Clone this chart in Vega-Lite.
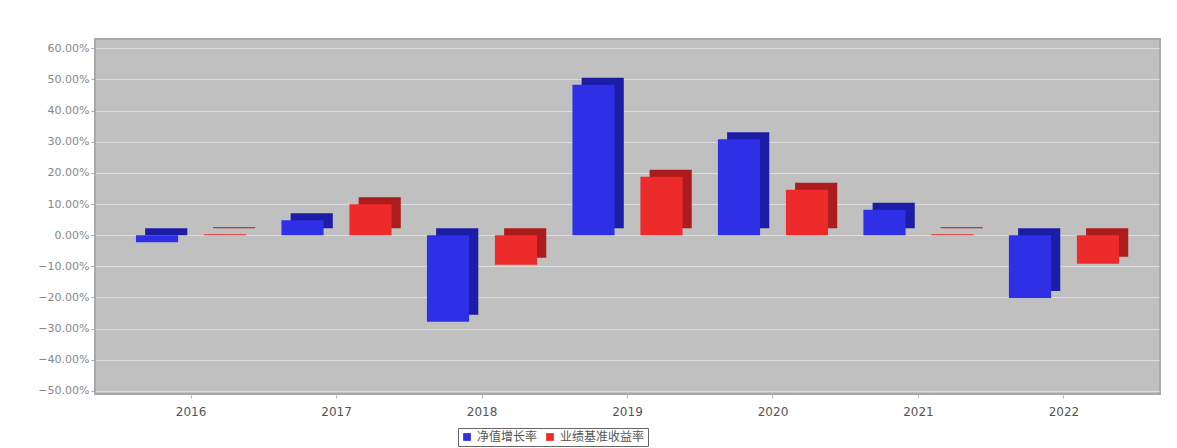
{
  "$schema": "https://vega.github.io/schema/vega-lite/v6.json",
  "width": 1065,
  "height": 355,
  "autosize": {"type": "none"},
  "padding": {"left": 95, "top": 39, "right": 17, "bottom": 54},
  "background": "white",
  "config": {
    "view": {"fill": "#c0c0c0", "stroke": "#a8a8a8", "strokeWidth": 2},
    "font": "DejaVu Sans"
  },
  "data": {
    "values": [
      {"year": "2016", "series": "净值增长率", "value": -2.3},
      {"year": "2016", "series": "业绩基准收益率", "value": 0.3},
      {"year": "2017", "series": "净值增长率", "value": 4.8},
      {"year": "2017", "series": "业绩基准收益率", "value": 9.9},
      {"year": "2018", "series": "净值增长率", "value": -27.8},
      {"year": "2018", "series": "业绩基准收益率", "value": -9.5},
      {"year": "2019", "series": "净值增长率", "value": 48.3},
      {"year": "2019", "series": "业绩基准收益率", "value": 18.8},
      {"year": "2020", "series": "净值增长率", "value": 30.8},
      {"year": "2020", "series": "业绩基准收益率", "value": 14.6},
      {"year": "2021", "series": "净值增长率", "value": 8.2},
      {"year": "2021", "series": "业绩基准收益率", "value": 0.3},
      {"year": "2022", "series": "净值增长率", "value": -20.2},
      {"year": "2022", "series": "业绩基准收益率", "value": -9.2}
    ]
  },
  "encoding": {
    "x": {
      "field": "year", "type": "nominal",
      "scale": {"paddingInner": 0, "paddingOuter": 0.16},
      "axis": {"title": null, "labelAngle": 0, "labelColor": "#555", "labelFontSize": 12, "labelPadding": 8, "domain": false, "tickColor": "#bbb", "tickSize": 4}
    },
    "y": {
      "field": "value", "type": "quantitative",
      "scale": {"domain": [-51, 63], "nice": false, "zero": false},
      "axis": {
        "title": null,
        "values": [-50, -40, -30, -20, -10, 0, 10, 20, 30, 40, 50, 60],
        "labelExpr": "format(datum.value, '.2f') + '%'",
        "labelColor": "#888", "labelFontSize": 11,
        "domainColor": "#aaa", "tickColor": "#aaa", "tickSize": 4,
        "gridColor": "#ffffff", "gridOpacity": 0.45
      }
    }
  },
  "resolve": {"scale": {"xOffset": "independent"}},
  "layer": [
    {
      "mark": {"type": "bar", "yOffset": -7, "y2Offset": -7},
      "encoding": {
        "xOffset": {
          "field": "series", "type": "nominal",
          "sort": ["净值增长率", "业绩基准收益率"],
          "scale": {"paddingInner": 0.38, "paddingOuter": 0.26, "align": 0.76}
        },
        "y2": {"datum": 0},
        "color": {
          "condition": {"test": "datum.series === '净值增长率'", "value": "#1c1ca6"},
          "value": "#ac1c1c"
        }
      }
    },
    {
      "mark": {"type": "bar"},
      "encoding": {
        "xOffset": {
          "field": "series", "type": "nominal",
          "sort": ["净值增长率", "业绩基准收益率"],
          "scale": {"paddingInner": 0.38, "paddingOuter": 0.26, "align": 0.5}
        },
        "y2": {"datum": 0},
        "color": {
          "field": "series", "type": "nominal",
          "sort": ["净值增长率", "业绩基准收益率"],
          "scale": {"domain": ["净值增长率", "业绩基准收益率"], "range": ["#2f2fe6", "#ee2b2b"]},
          "legend": {
            "title": null, "orient": "none", "legendX": 363, "legendY": 389, "direction": "horizontal",
            "symbolType": "square", "symbolSize": 60, "symbolStrokeWidth": 0,
            "labelFont": "Noto Sans CJK SC", "labelFontSize": 12, "labelColor": "#555",
            "strokeColor": "#666", "padding": 3, "columnPadding": 6
          }
        }
      }
    }
  ]
}
